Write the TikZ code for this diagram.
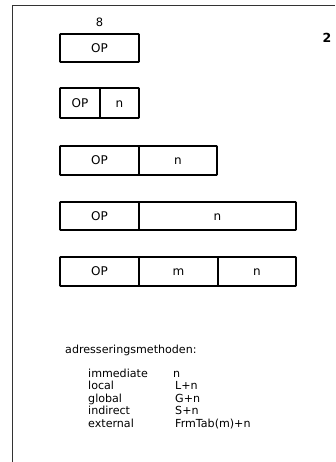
\documentclass[tikz,border=0pt]{standalone}
\usepackage{fontspec}
\setmainfont{DejaVu Sans}
\begin{document}
\begin{tikzpicture}[x=1pt,y=-1pt,
  cell/.style={draw, line width=1.9pt, rounded corners=0.8pt, inner sep=0pt,
    font=\fontsize{12}{14}\selectfont, text height=8.5pt, text depth=0pt},
  frame/.style={line width=0.9pt, draw=black!80},
  txt/.style={inner sep=0pt, anchor=base west, font=\fontsize{11.1}{13}\selectfont}]
\useasboundingbox (0,0) rectangle (335,462);

% page frame (top and left edges)
\coordinate (ftl) at (12,5);
\coordinate (ftr) at (335,5);
\coordinate (fbl) at (12,462);
\draw[frame] (ftr) -- (ftl) -- (fbl);

\node[inner sep=0pt, font=\fontsize{12.5}{14}\selectfont\bfseries] (fig) at (327,38) {2};

% instruction formats
\node[inner sep=0pt, font=\fontsize{11.5}{13}\selectfont] (bits) at (99.5,22) {8};
\node[cell, minimum width=79pt, minimum height=28pt] (a1) at (99.5,48) {OP};

\node[cell, minimum width=40pt, minimum height=30pt] (b1) at (80,103) {OP};
\node[cell, minimum width=39pt, minimum height=30pt] (b2) at (119.5,103) {n};

\node[cell, minimum width=79pt, minimum height=29pt] (c1) at (99.5,160.5) {OP};
\node[cell, minimum width=78pt, minimum height=29pt] (c2) at (178,160.5) {n};

\node[cell, minimum width=79pt, minimum height=28pt] (d1) at (99.5,216) {OP};
\node[cell, minimum width=157pt, minimum height=28pt] (d2) at (217.5,216) {n};

\node[cell, minimum width=79pt, minimum height=29pt] (e1) at (99.5,271.5) {OP};
\node[cell, minimum width=79pt, minimum height=29pt] (e2) at (178.5,271.5) {m};
\node[cell, minimum width=78pt, minimum height=29pt] (e3) at (257,271.5) {n};

% addressing modes
\node[txt] (hdr) at (65,353) {adresseringsmethoden:};
\node[txt] (m1) at (88,377) {immediate};
\node[txt] (v1) at (173,377) {n};
\node[txt] (m2) at (88,389.5) {local};
\node[txt] (v2) at (175,389.5) {L+n};
\node[txt] (m3) at (88,402) {global};
\node[txt] (v3) at (175,402) {G+n};
\node[txt] (m4) at (88,414.5) {indirect};
\node[txt] (v4) at (175,414.5) {S+n};
\node[txt] (m5) at (88,427) {external};
\node[txt] (v5) at (175,427) {FrmTab(m)+n};
\end{tikzpicture}
\end{document}
